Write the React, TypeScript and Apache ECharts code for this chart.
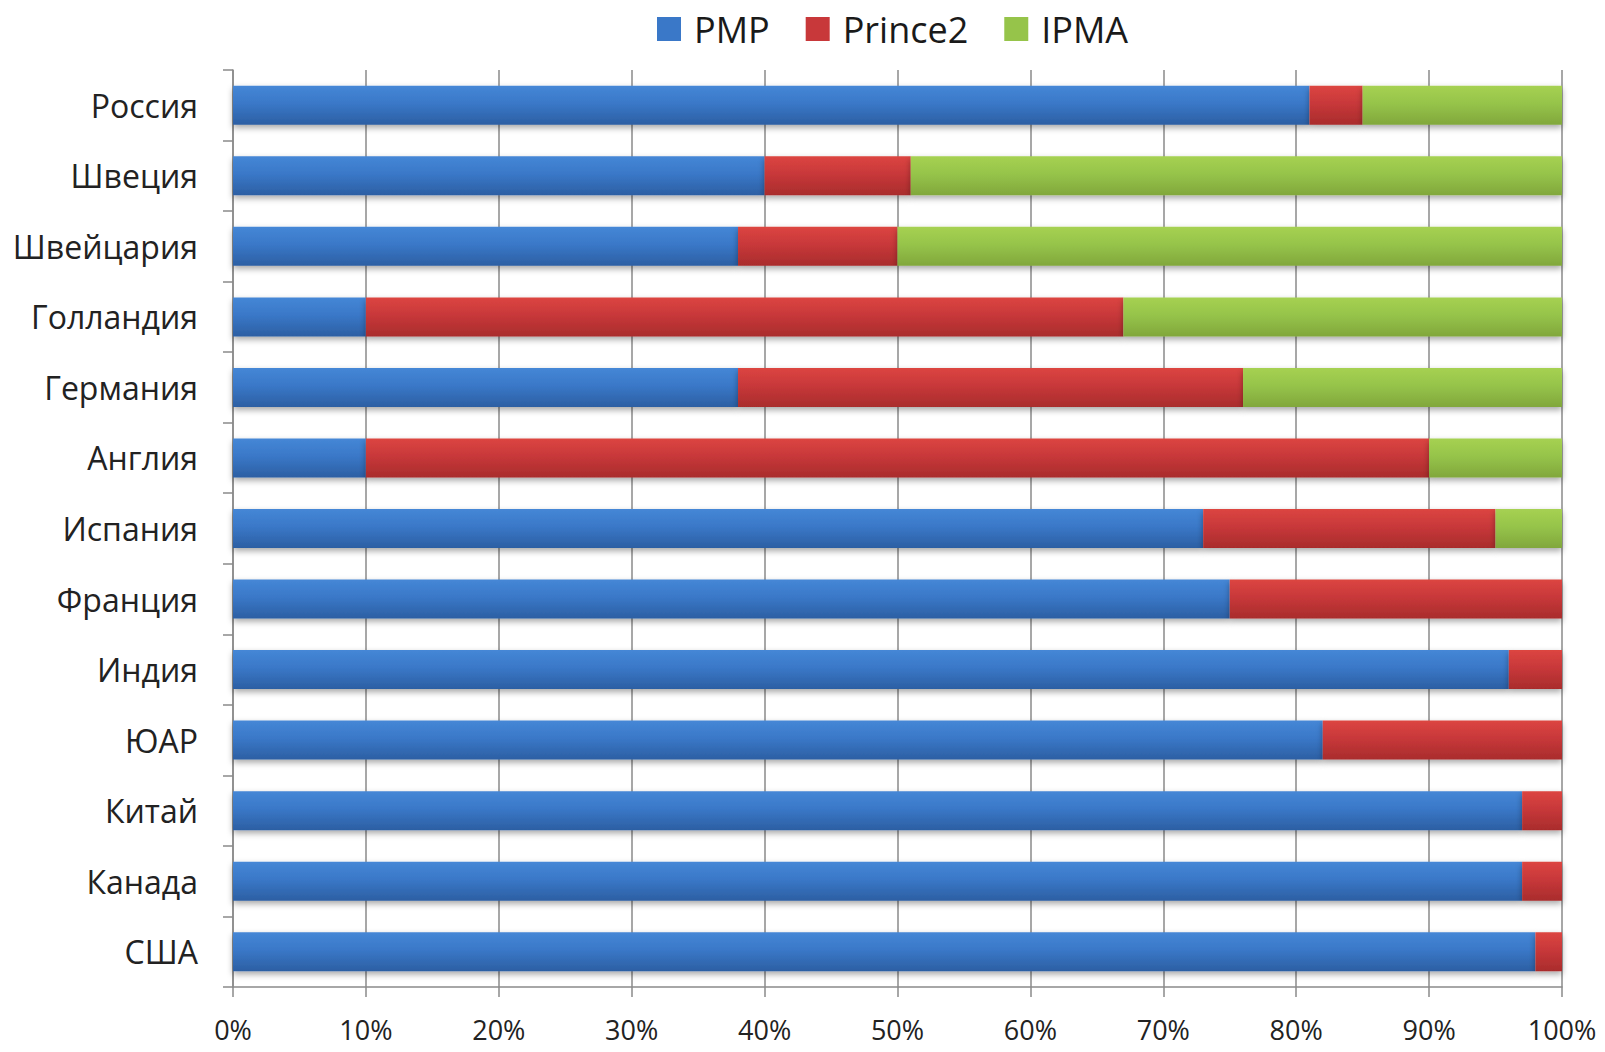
import React, { useEffect, useRef } from "react";
import * as echarts from "echarts";

const categories = ["Россия", "Швеция", "Швейцария", "Голландия", "Германия", "Англия", "Испания", "Франция", "Индия", "ЮАР", "Китай", "Канада", "США"];
const pmp = [81, 40, 38, 10, 38, 10, 73, 75, 96, 82, 97, 97, 98];
const prince2 = [4, 11, 12, 57, 38, 80, 22, 25, 4, 18, 3, 3, 2];
const ipma = [15, 49, 50, 33, 24, 10, 5, 0, 0, 0, 0, 0, 0];
const xTicks = [0, 10, 20, 30, 40, 50, 60, 70, 80, 90, 100];

const FONT = "'Open Sans', 'DejaVu Sans', sans-serif";

function grad(top: string, mid: string, bottom: string) {
  return new echarts.graphic.LinearGradient(0, 0, 0, 1, [
    { offset: 0, color: top },
    { offset: 0.45, color: mid },
    { offset: 1, color: bottom },
  ]);
}

export default function App() {
  const ref = useRef<HTMLDivElement>(null);
  useEffect(() => {
    if (!ref.current) return;
    const chart = echarts.init(ref.current, undefined, { renderer: "svg" });
    const mk = (name: string, data: number[], color: any) => ({
      name,
      type: "bar",
      stack: "total",
      data,
      barWidth: 39,
      itemStyle: {
        color,
        shadowColor: "rgba(0,0,0,0.35)",
        shadowBlur: 6,
        shadowOffsetY: 3,
      },
      emphasis: { disabled: true },
    });
    chart.setOption({
      animation: false,
      backgroundColor: "#ffffff",
      legend: {
        top: 11,
        left: 657,
        padding: 0,
        itemWidth: 24,
        itemHeight: 24,
        itemGap: 36,
        icon: "rect",
        textStyle: { fontFamily: FONT, fontSize: 36, color: "#1a1a1a", padding: [0, 0, 0, 8] },
        data: [
          { name: "PMP", itemStyle: { color: "#3a78c8" } },
          { name: "Prince2", itemStyle: { color: "#c8383a" } },
          { name: "IPMA", itemStyle: { color: "#96c44a" } },
        ],
      },
      grid: { left: 233, right: 43, top: 70, bottom: 65, containLabel: false },
      xAxis: {
        type: "value",
        min: 0,
        max: 100,
        interval: 10,
        axisLine: { show: true, lineStyle: { color: "#8a8a8a", width: 1.5 } },
        axisTick: { show: true, length: 10, lineStyle: { color: "#8a8a8a", width: 1.5 } },
        splitLine: { show: true, lineStyle: { color: "#8a8a8a", width: 1.5 } },
        axisLabel: {
          formatter: (v: number) => (xTicks.includes(v) ? v + "%" : ""),
          fontFamily: FONT,
          fontSize: 27,
          lineHeight: 27,
          color: "#222",
          margin: 29,
        },
      },
      yAxis: {
        type: "category",
        inverse: true,
        data: categories,
        axisLine: { show: true, lineStyle: { color: "#8a8a8a", width: 1.5 } },
        axisTick: { show: true, length: 10, interval: 0, lineStyle: { color: "#8a8a8a", width: 1.5 } },
        axisLabel: { fontFamily: FONT, fontSize: 32, color: "#222", margin: 35 },
      },
      series: [
        mk("PMP", pmp, grad("#4587d6", "#3a78c8", "#2c5fa3")),
        mk("Prince2", prince2, grad("#dc4541", "#c8383a", "#a92c2c")),
        mk("IPMA", ipma, grad("#a6d152", "#96c44a", "#81a73c")),
      ],
    });
    return () => chart.dispose();
  }, []);
  return (
    <div
      ref={ref}
      style={{ position: "fixed", left: 0, top: 0, width: 1605, height: 1052 }}
    />
  );
}
